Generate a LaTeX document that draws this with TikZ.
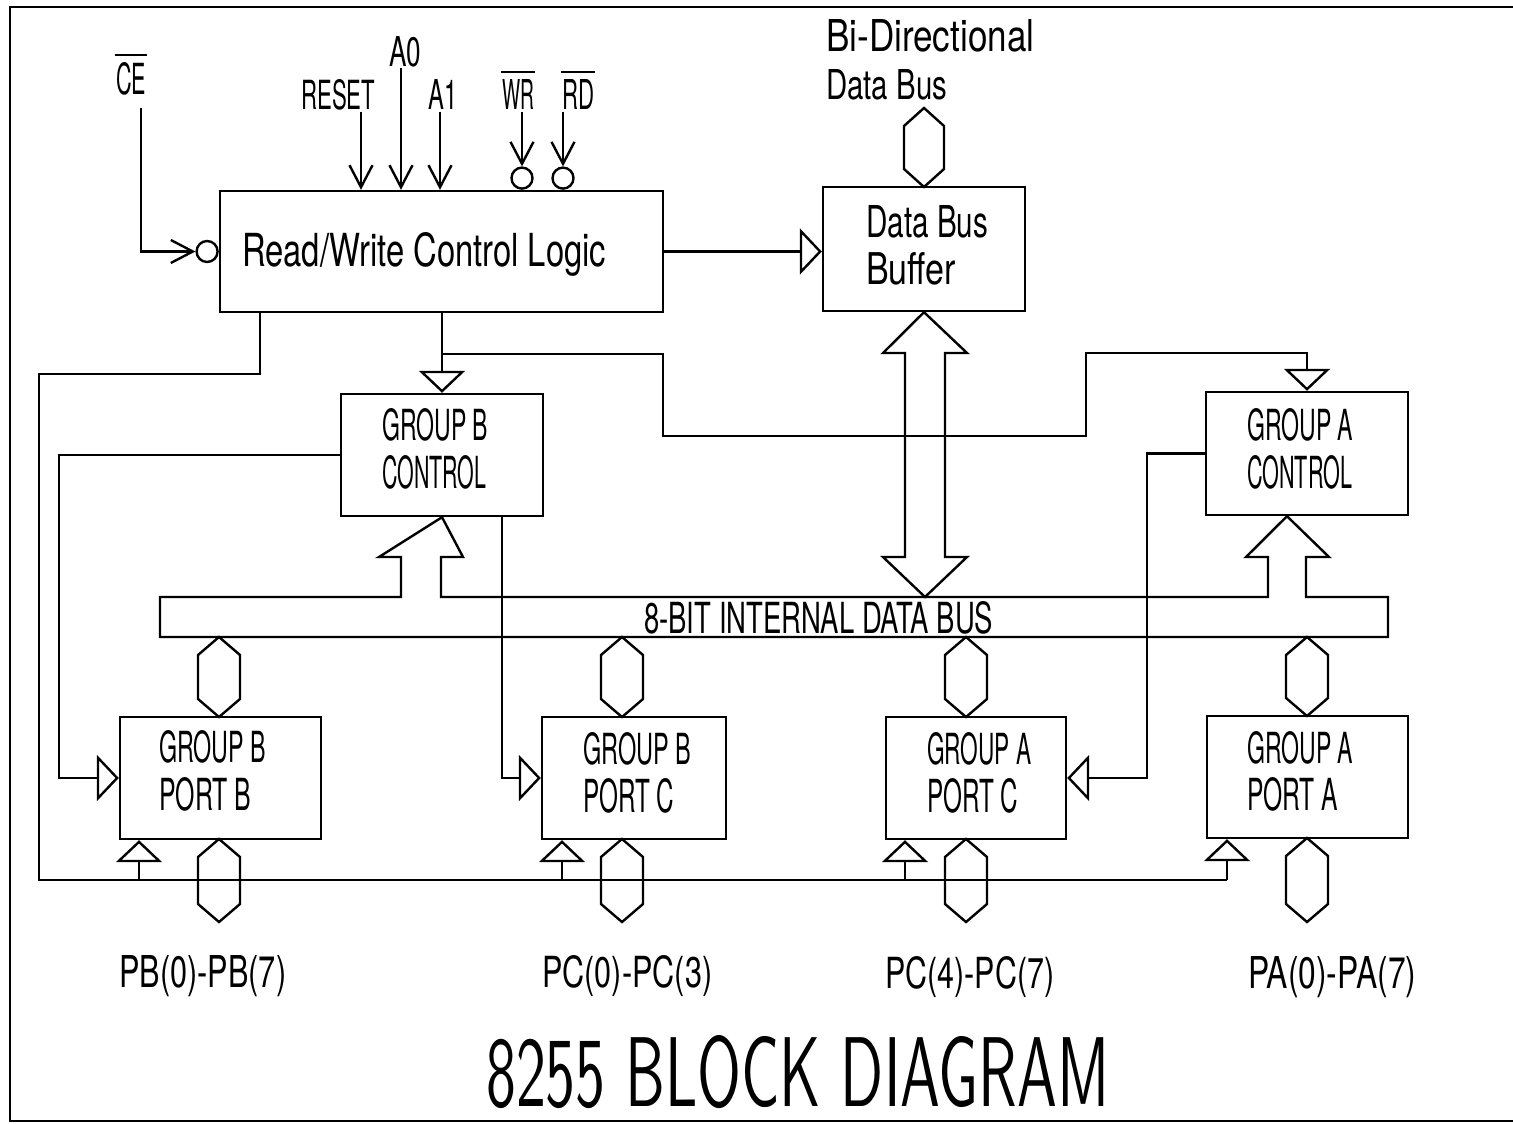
\documentclass[tikz,border=0pt]{standalone}
\usepackage{fontspec}
\usepackage{graphicx}
\newfontfamily\pf{TeX Gyre Heros}
\usetikzlibrary{arrows.meta}
\newcommand{\fx}[3]{\resizebox{#1pt}{#2pt}{\pf #3}}
\newcommand{\hexa}[4]{\draw (#1,#2) -- ({#1+#4},{#2+18}) -- ({#1+#4},{#3-18}) -- (#1,#3) -- ({#1-#4},{#3-18}) -- ({#1-#4},{#2+18}) -- cycle;}
\begin{document}
\begin{tikzpicture}[x=0.5pt,y=-0.5pt, line width=1.2pt, line join=miter,
 blk/.style={draw, rectangle, inner sep=0pt},
 txt/.style={inner sep=0pt, anchor=base west},
 bub/.style={draw, circle, inner sep=0pt, minimum size=10.5pt},
 vtip/.style={-{Straight Barb[length=11pt,width=11.5pt]}},
 ttip/.style={-{Triangle[open,length=11pt,width=23pt]}}]
\useasboundingbox (0,0) rectangle (1513,1123);
% frame
\draw[line width=1.4pt] (1513,7) -- (10,7) -- (10,1121) -- (1513,1121);

% blocks
\node[blk, minimum width=221.5pt, minimum height=60.5pt] (rw) at (441.5,251.5) {};
\node[blk, minimum width=101pt, minimum height=62pt] (dbb) at (924,249) {};
\node[blk, minimum width=101pt, minimum height=61pt] (gbc) at (442,455) {};
\node[blk, minimum width=101pt, minimum height=61.5pt] (gac) at (1307,453.5) {};
\node[blk, minimum width=100.5pt, minimum height=61pt] (pbb) at (220.5,778) {};
\node[blk, minimum width=92pt, minimum height=61pt] (pbc) at (634,778) {};
\node[blk, minimum width=90pt, minimum height=61pt] (pac) at (976,778) {};
\node[blk, minimum width=100.5pt, minimum height=61pt] (paa) at (1307.5,777) {};

% texts
\node[txt] (ce) at (115,95) {\fx{15}{16}{CE}};
\node[txt] (reset) at (300,110) {\fx{37}{15}{RESET}};
\node[txt] (a0) at (388,67) {\fx{16}{15}{A0}};
\node[txt] (a1) at (427,110) {\fx{14.5}{15}{A1}};
\node[txt] (wr) at (501,110) {\fx{16}{15}{WR}};
\node[txt] (rd) at (561,110) {\fx{16}{15}{RD}};
\draw ([yshift=3.5pt]ce.north west) -- ([yshift=3.5pt]ce.north east);
\draw ([yshift=3.5pt]wr.north west) -- ([yshift=3.5pt]wr.north east);
\draw ([yshift=3.5pt]rd.north west) -- ([yshift=3.5pt]rd.north east);

\node[txt] (rwt) at (241,266) {\fx{182}{17}{Read/Write Control Logic}};
\node[txt] (bd1) at (825,52) {\fx{104}{16}{Bi-Directional}};
\node[txt] (bd2) at (825,100) {\fx{60.5}{15}{Data Bus}};
\node[txt] (db1) at (865,237) {\fx{61}{16}{Data Bus}};
\node[txt] (db2) at (865,285) {\fx{45}{16}{Buffer}};
\node[txt] (gb1) at (381,440) {\fx{53}{16}{GROUP B}};
\node[txt] (gb2) at (381,488) {\fx{52}{16.5}{CONTROL}};
\node[txt] (ga1) at (1246,440) {\fx{53}{16}{GROUP A}};
\node[txt] (ga2) at (1246,488) {\fx{52.5}{16.5}{CONTROL}};
\node[txt] (p11) at (158,762) {\fx{53.5}{16}{GROUP B}};
\node[txt] (p12) at (158,810) {\fx{46}{16.5}{PORT B}};
\node[txt] (p21) at (582,764) {\fx{54}{16}{GROUP B}};
\node[txt] (p22) at (582,812) {\fx{45.5}{17}{PORT C}};
\node[txt] (p31) at (926,764) {\fx{52}{16}{GROUP A}};
\node[txt] (p32) at (926,812) {\fx{45.5}{17}{PORT C}};
\node[txt] (p41) at (1246,763) {\fx{53}{16}{GROUP A}};
\node[txt] (p42) at (1246,810) {\fx{45.5}{16.5}{PORT A}};
\node[txt] (bust) at (643,633) {\fx{174.5}{16}{8-BIT INTERNAL DATA BUS}};
\node[txt] (l1) at (118,987) {\fx{83.5}{16}{PB(0)-PB(7)}};
\node[txt] (l2) at (541,987) {\fx{85}{16}{PC(0)-PC(3)}};
\node[txt] (l3) at (884,988) {\fx{84.5}{16}{PC(4)-PC(7)}};
\node[txt] (l4) at (1247,988) {\fx{84}{16}{PA(0)-PA(7)}};
\node[txt] (title) at (485,1106) {\resizebox{311.5pt}{35.5pt}{\sffamily 8255 BLOCK DIAGRAM}};

% inputs to R/W logic
\node[bub, anchor=east] (cec) at (rw.west) {};
\node[bub, anchor=south] (wrc) at (rw.north -| 522,0) {};
\node[bub, anchor=south] (rdc) at (rw.north -| 563,0) {};
\coordinate (cex) at (141,108);
\draw[vtip] (cex) |- (cec.west);
\draw[vtip] (361,112) -- (rw.north -| 361,0);
\draw[vtip] (401,68) -- (rw.north -| 401,0);
\draw[vtip] (440,112) -- (rw.north -| 440,0);
\draw[vtip] (522,112) -- (wrc.north);
\draw[vtip] (563,112) -- (rdc.north);

% R/W to data bus buffer
\draw[ttip] (rw.east) -- (dbb.west |- rw.east);
% R/W to group controls
\draw[ttip] (rw.south -| gbc.north) -- (gbc.north);
\draw[ttip] (gbc.north |- 0,354) -| (663,436) -| (1086,353) -| (gac.north);
% R/W to ports (bottom)
\draw (rw.south -| 260,0) |- (39,374) |- (1227,880);
\foreach \x/\p in {139/pbb, 562/pbc, 905/pac, 1227/paa}
  \draw[ttip] (\x,880) -- (\p.south -| \x,0);
% controls to ports C / B
\draw[ttip] (gbc.west) -| (59,778) -- (pbb.west);
\draw[ttip] (gbc.south -| 502,0) |- (pbc.west);
\draw[ttip] (gac.west) -| (1147,778) -- (pac.east);

% internal bus with arrows up to controls
\draw (160,597) -- (401,597) -- (401,557) -- (379,557) -- (gbc.south) -- (463,557) -- (441,557) -- (441,597)
  -- (1268,597) -- (1268,557) -- (1246,557) -- (gac.south -| 1287,0) -- (1329,557) -- (1306,557) -- (1306,597)
  -- (1388,597) -- (1388,637) -- (160,637) -- cycle;
% data bus double arrow
\draw (dbb.south) -- (967,353) -- (945,353) -- (945,557) -- (967,557) -- (925,597) -- (883,557) -- (905,557)
  -- (905,353) -- (883,353) -- cycle;

% bidirectional bus hexagons
\hexa{924}{108}{187}{20}
\hexa{219}{637}{717}{21}
\hexa{622}{637}{717}{21}
\hexa{966}{637}{717}{21}
\hexa{1307}{637}{716}{21}
\hexa{219}{839}{922}{21}
\hexa{622}{839}{922}{21}
\hexa{966}{839}{922}{21}
\hexa{1307}{838}{922}{21}
\end{tikzpicture}
\end{document}
